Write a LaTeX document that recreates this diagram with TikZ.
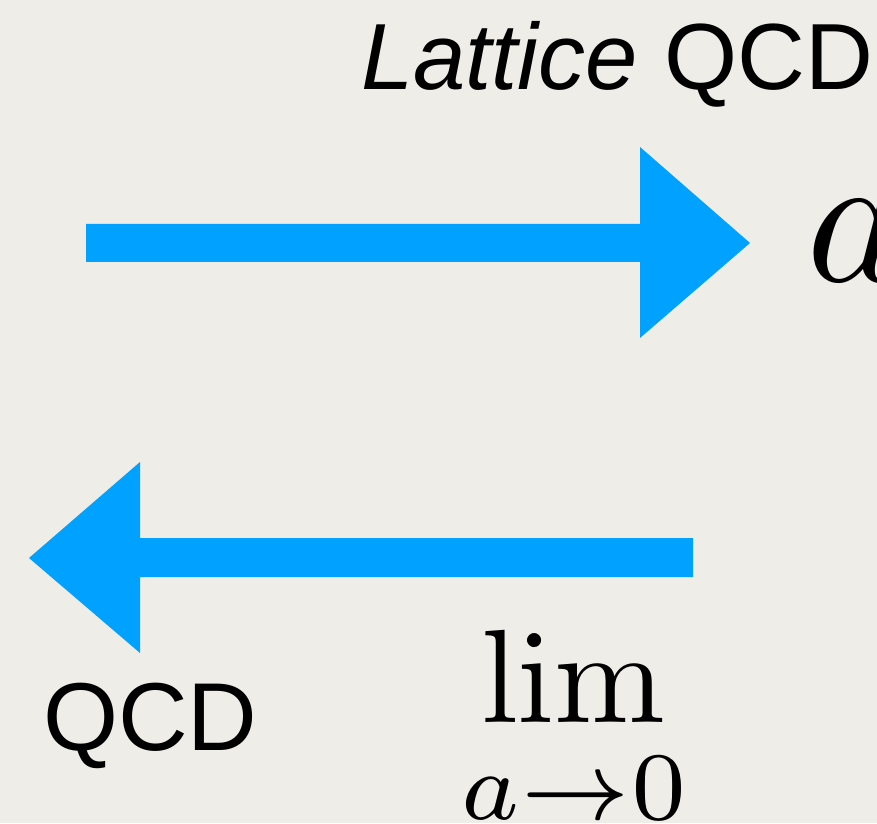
\documentclass[tikz,border=0pt]{standalone}
\usepackage{graphicx}
\usepackage[no-math]{fontspec}
\newfontfamily\helv{Liberation Sans}
\definecolor{paper}{RGB}{239,237,232}
\definecolor{arrowblue}{RGB}{0,161,255}
\tikzset{
  blockarrow/.style={fill=arrowblue, draw=none},
  label/.style={inner sep=0pt, outer sep=0pt, text=black}
}
\begin{document}
\begin{tikzpicture}[x=1pt, y=1pt]
  % page and background
  \fill[paper] (0,0) rectangle (877,823);
  \useasboundingbox (0,0) rectangle (877,823);

  % forward arrow: towards the lattice
  \coordinate (fwdTail) at (86,580);
  \coordinate (fwdTip)  at (750,580);
  \fill[blockarrow] (fwdTail) ++(0,19) -- (640,599) -- (640,676) -- (fwdTip)
       -- (640,485) -- (640,561) -- (86,561) -- cycle;

  % backward arrow: continuum limit
  \coordinate (bwdTail) at (693,265);
  \coordinate (bwdTip)  at (29,265);
  \fill[blockarrow] (bwdTail) ++(0,20) -- (140,285) -- (140,361) -- (bwdTip)
       -- (140,170) -- (140,246) -- (693,246) -- cycle;

  % labels (formulas are typeset at 10pt and magnified)
  \node[label, anchor=base west] (lattice) at (361,733)
    {\helv\fontsize{94}{112}\selectfont\textit{Lattice} QCD};
  \node[label, anchor=base west] (spacing) at (806,541)
    {\scalebox{18.8}{$a$}};
  \node[label, anchor=base west] (qcd) at (43,73)
    {\helv\fontsize{96.5}{114}\selectfont QCD};
  \node[label, anchor=base] (limit) at (573.5,101)
    {\scalebox{13.3}{$\displaystyle\lim_{\lower1.3pt\hbox{\scalebox{1.04}{$\scriptstyle a\to0$}}}$}};
\end{tikzpicture}
\end{document}
